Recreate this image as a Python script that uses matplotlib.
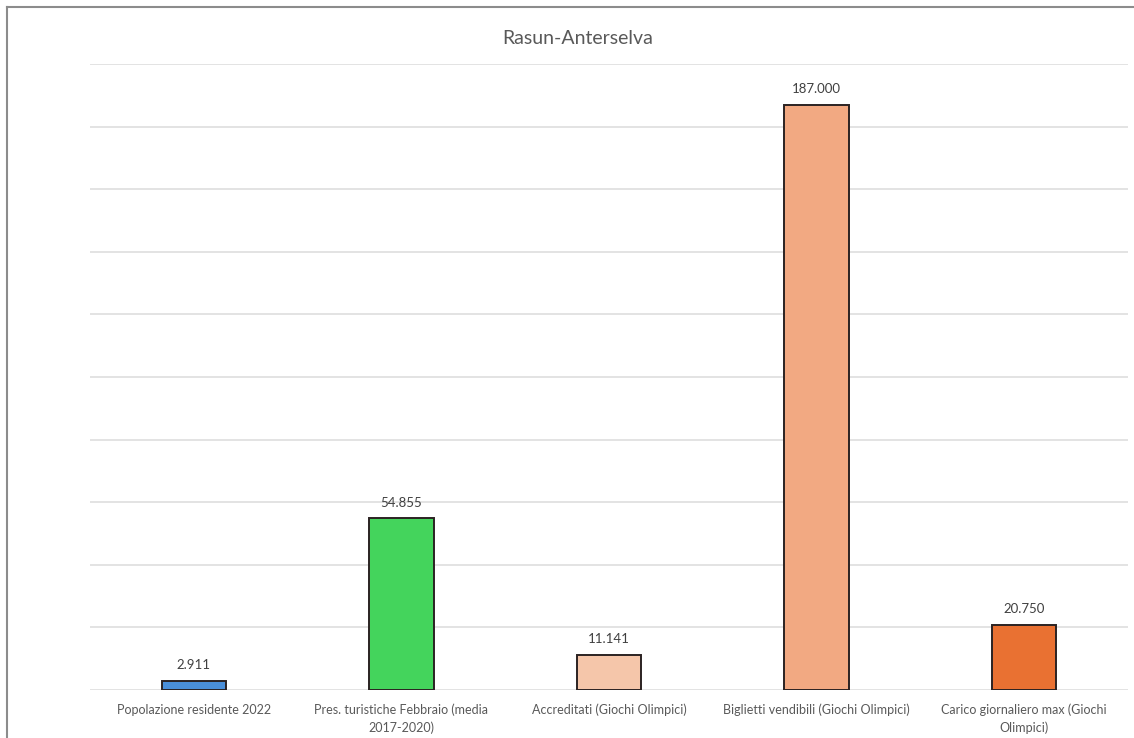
import matplotlib.pyplot as plt
from matplotlib.lines import Line2D

# data
categories = ['Popolazione residente 2022',
              'Pres. turistiche Febbraio (media\n2017-2020)',
              'Accreditati (Giochi Olimpici)',
              'Biglietti vendibili (Giochi Olimpici)',
              'Carico giornaliero max (Giochi\nOlimpici)']
values = [2911, 54855, 11141, 187000, 20750]
colors = ['#4A8FD9', '#44D45C', '#F5C6AA', '#F2A982', '#E97132']

plt.rcParams['font.family'] = ['Lato', 'DejaVu Sans']

fig = plt.figure(figsize=(11.34, 7.38), dpi=100)
ax = fig.add_axes([90 / 1134, 1 - 690 / 738, (1128 - 90) / 1134, (690 - 64) / 738])

x = range(len(categories))
bars = ax.bar(x, values, width=0.31, color=colors, edgecolor='#2b2222', linewidth=1.4, zorder=3)

for b, v in zip(bars, values):
    ax.annotate(f'{v:,}'.replace(',', '.'), (b.get_x() + b.get_width() / 2, v),
                xytext=(0, 7), textcoords='offset points', ha='center', va='bottom',
                fontsize=9.5, color='#404040')

ax.set_xlim(-0.5, len(categories) - 0.5)
ax.set_ylim(0, 200000)
ax.set_yticks(range(0, 200001, 20000))
ax.set_yticklabels([])
ax.tick_params(axis='y', length=0)
ax.tick_params(axis='x', length=0, pad=10, labelsize=9, labelcolor='#595959')
ax.set_xticks(list(x))
ax.set_xticklabels(categories, linespacing=1.45)
ax.grid(axis='y', color='#dedede', linewidth=1.2, zorder=0)
for s in ax.spines.values():
    s.set_visible(False)

fig.text(578 / 1134, 1 - 39 / 738, 'Rasun-Anterselva', ha='center', va='center',
         fontsize=14, color='#595959')

# outer border (top and left only, rest is cropped)
fig.add_artist(Line2D([7 / 1134, 1], [1 - 7 / 738] * 2, color='#8c8c8c', linewidth=1.5,
                      transform=fig.transFigure))
fig.add_artist(Line2D([7 / 1134] * 2, [0, 1 - 7 / 738], color='#8c8c8c', linewidth=1.5,
                      transform=fig.transFigure))

fig.savefig('out.png', dpi=100, facecolor='white')
